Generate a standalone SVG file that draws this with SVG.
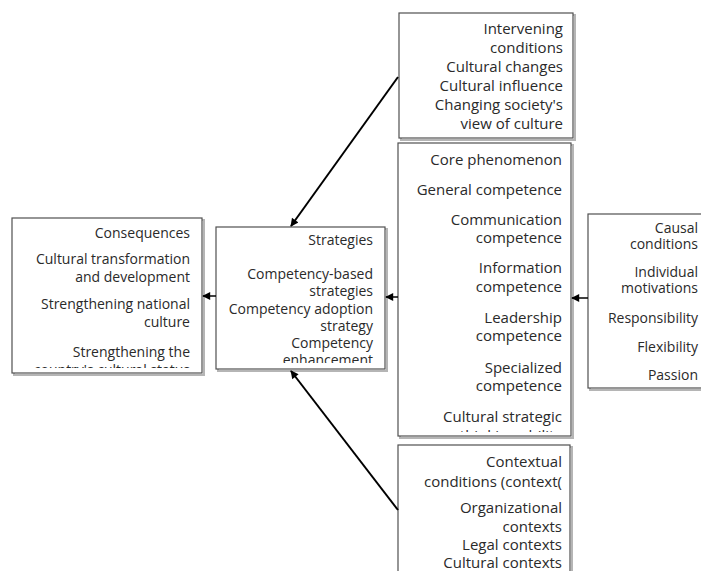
<svg xmlns="http://www.w3.org/2000/svg" width="701" height="571" viewBox="0 0 701 571">
<style>
.shadow{fill:none;stroke:#b5b5b5;stroke-width:2}
.box{fill:#fff;stroke:#505050;stroke-width:1.2}
.t{font-family:"Open Sans","Liberation Sans",sans-serif;font-size:15px;fill:#2a2a2a;text-anchor:end}
.s{font-size:14px}
.conn{stroke:#000;stroke-width:2;fill:none;marker-end:url(#ah)}
.connh{stroke:#000;stroke-width:1.5;fill:none;marker-end:url(#ah)}
</style>
<defs>
<marker id="ah" viewBox="0 0 10 10" refX="9" refY="5" markerWidth="10" markerHeight="8" markerUnits="userSpaceOnUse" orient="auto">
<path d="M0,0 L10,5 L0,10 z" fill="#000"/>
</marker>
<clipPath id="cCore"><rect x="398" y="143" width="173" height="289"/></clipPath>
<clipPath id="cCons"><rect x="12" y="218" width="190" height="150"/></clipPath>
<clipPath id="cStrat"><rect x="216" y="227" width="169" height="136"/></clipPath>
</defs>
<rect width="701" height="571" fill="#fff"/>

<g id="intervening">
<rect class="shadow" x="401" y="15" width="174" height="125"/>
<rect class="box" x="399" y="13" width="174" height="125"/>
<text class="t" x="563" y="34">Intervening</text>
<text class="t" x="563" y="53">conditions</text>
<text class="t" x="563" y="72">Cultural changes</text>
<text class="t" x="563" y="91">Cultural influence</text>
<text class="t" x="563" y="110">Changing society's</text>
<text class="t" x="563" y="129">view of culture</text>
</g>

<g id="core">
<rect class="shadow" x="400" y="145" width="173" height="293"/>
<rect class="box" x="398" y="143" width="173" height="293"/>
<g clip-path="url(#cCore)">
<text class="t" x="562" y="165">Core phenomenon</text>
<text class="t" x="562" y="195">General competence</text>
<text class="t" x="562" y="225">Communication</text>
<text class="t" x="562" y="243">competence</text>
<text class="t" x="562" y="273">Information</text>
<text class="t" x="562" y="292">competence</text>
<text class="t" x="562" y="323">Leadership</text>
<text class="t" x="562" y="341">competence</text>
<text class="t" x="562" y="373">Specialized</text>
<text class="t" x="562" y="391">competence</text>
<text class="t" x="562" y="422">Cultural strategic</text>
<text class="t" x="562" y="441">thinking ability</text>
</g>
</g>

<g id="causal">
<rect class="shadow" x="590" y="216" width="130" height="174"/>
<rect class="box" x="588" y="214" width="130" height="174"/>
<text class="t s" x="698" y="233">Causal</text>
<text class="t s" x="698" y="249">conditions</text>
<text class="t s" x="698" y="277">Individual</text>
<text class="t s" x="698" y="293">motivations</text>
<text class="t s" x="698" y="323">Responsibility</text>
<text class="t s" x="698" y="352">Flexibility</text>
<text class="t s" x="698" y="380">Passion</text>
</g>

<g id="consequences">
<rect class="shadow" x="14" y="220" width="190" height="155"/>
<rect class="box" x="12" y="218" width="190" height="155"/>
<g clip-path="url(#cCons)">
<text class="t s" x="190" y="238">Consequences</text>
<text class="t s" x="190" y="264">Cultural transformation</text>
<text class="t s" x="190" y="282">and development</text>
<text class="t s" x="190" y="309">Strengthening national</text>
<text class="t s" x="190" y="327">culture</text>
<text class="t s" x="190" y="357">Strengthening the</text>
<text class="t s" x="190" y="375">country's cultural status</text>
</g>
</g>

<g id="strategies">
<rect class="shadow" x="218" y="229" width="169" height="142"/>
<rect class="box" x="216" y="227" width="169" height="142"/>
<g clip-path="url(#cStrat)">
<text class="t s" x="373" y="245">Strategies</text>
<text class="t s" x="373" y="279">Competency-based</text>
<text class="t s" x="373" y="296">strategies</text>
<text class="t s" x="373" y="314">Competency adoption</text>
<text class="t s" x="373" y="331">strategy</text>
<text class="t s" x="373" y="348">Competency</text>
<text class="t s" x="373" y="365">enhancement</text>
</g>
</g>

<g id="contextual">
<rect class="shadow" x="400" y="447" width="172" height="140"/>
<rect class="box" x="398" y="445" width="172" height="140"/>
<text class="t" x="562" y="467">Contextual</text>
<text class="t" x="562" y="487">conditions (context(</text>
<text class="t" x="562" y="513">Organizational</text>
<text class="t" x="562" y="532">contexts</text>
<text class="t" x="562" y="550">Legal contexts</text>
<text class="t" x="562" y="568">Cultural contexts</text>
</g>

<g id="connectors">
<line class="conn" x1="398" y1="77" x2="291" y2="226"/>
<line class="conn" x1="398" y1="510" x2="291" y2="371"/>
<line class="connh" x1="398" y1="297" x2="386" y2="297"/>
<line class="connh" x1="588" y1="298" x2="572" y2="298"/>
<line class="connh" x1="216" y1="296" x2="203" y2="296"/>
</g>
</svg>
